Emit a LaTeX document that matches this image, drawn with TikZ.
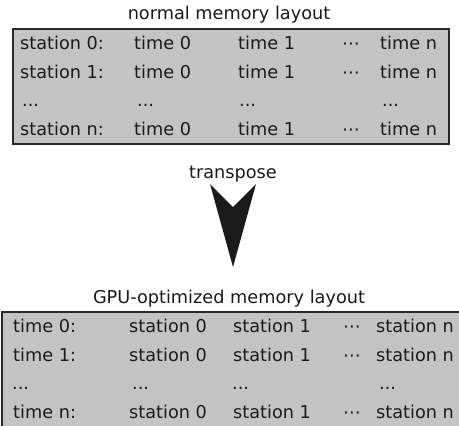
\documentclass[tikz,border=0pt]{standalone}
\usepackage{fontspec}
\setmainfont{DejaVu Sans}
\tikzset{
	cell/.style={anchor=base west, inner sep=0pt, text=textdark},
	memtitle/.style={anchor=base, inner sep=0pt, text=textdark},
	membox/.style={draw=boxline, line width=1.4pt, fill=boxgray}
}
\definecolor{boxgray}{RGB}{196,196,196}
\definecolor{boxline}{RGB}{40,40,40}
\definecolor{textdark}{RGB}{26,26,26}
\begin{document}
\begin{tikzpicture}[x=1pt,y=-1pt,font=\fontsize{17.7}{21}\selectfont]
	\useasboundingbox (0,0) rectangle (459,426);
	\clip (0,0) rectangle (459,426);

	\node[memtitle] (normaltitle) at (229,19) {normal memory layout};
	\draw[membox] (13,29) rectangle (449,144);

            \foreach \lbl/\y [count=\r] in {0/49,1/78,n/135}{
              \node[cell] (nl-\r-1) at (20,\y) {station \lbl:};
              \node[cell] (nl-\r-2) at (134,\y) {time 0};
              \node[cell] (nl-\r-3) at (238,\y) {time 1};
              \node[cell] (nl-\r-4) at (342,\y) {⋯};
              \node[cell] (nl-\r-5) at (380,\y) {time n};
            }
            \foreach \x [count=\c] in {22,137,239,382}{
              \node[cell] (nl-dots-\c) at (\x,106) {...};
            }

	\node[memtitle] (transpose) at (233,178) {transpose};
	\fill[textdark] (210,184) -- (233,207) -- (256,184) -- (233,267) -- cycle;

	\node[memtitle] (gputitle) at (229,303) {GPU-optimized memory layout};
	\draw[membox] (2,312) rectangle (475,428);

            \foreach \lbl/\y [count=\r] in {0/332,1/361,n/418}{
              \node[cell] (gl-\r-1) at (13,\y) {time \lbl:};
              \node[cell] (gl-\r-2) at (129,\y) {station 0};
              \node[cell] (gl-\r-3) at (233,\y) {station 1};
              \node[cell] (gl-\r-4) at (343,\y) {⋯};
              \node[cell] (gl-\r-5) at (376,\y) {station n};
            }
            \foreach \x [count=\c] in {12,132,232,379}{
              \node[cell] (gl-dots-\c) at (\x,389) {...};
            }
\end{tikzpicture}
\end{document}
